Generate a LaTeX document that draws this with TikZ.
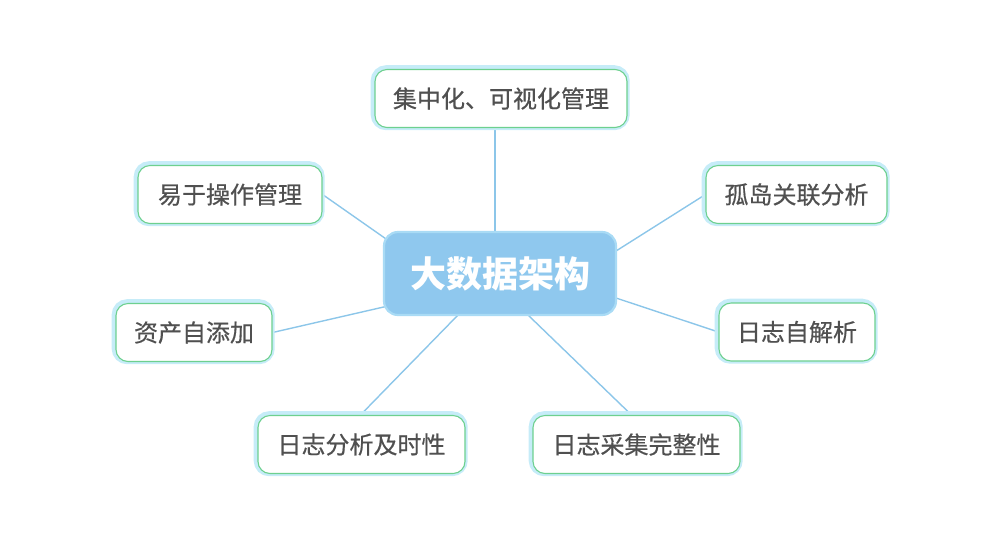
\documentclass[tikz,border=0pt]{standalone}
\usepackage{fontspec}
\setmainfont{Noto Sans CJK SC}
\newfontfamily\cjk{Noto Sans CJK SC}
\newfontfamily\cjkm[FakeBold=0.5]{Noto Sans CJK SC}
\usetikzlibrary{backgrounds}
\definecolor{leafgreen}{HTML}{6DD08F}
\definecolor{leafcyan}{HTML}{C6ECF8}
\definecolor{txtgray}{HTML}{505050}
\definecolor{hubfill}{HTML}{8FC8EE}
\definecolor{hubborder}{HTML}{A9DBF5}
\definecolor{linkblue}{HTML}{8CC6E9}
\tikzset{
  leaf/.style={draw=leafgreen, line width=1.1pt, fill=white, rounded corners=12pt,
    inner sep=0pt, minimum height=58pt, text=txtgray,
    font=\cjkm\fontsize{24}{28}\selectfont,
    preaction={draw=leafcyan, line width=7pt, rounded corners=12pt,
      transform canvas={xshift=-0.8pt,yshift=0.8pt}}},
  hub/.style={draw=hubborder, line width=2.2pt, fill=hubfill, rounded corners=14pt,
    inner sep=0pt, minimum width=232pt, minimum height=83pt, text=white,
    font=\cjk\bfseries\fontsize{36}{40}\selectfont},
  link/.style={draw=linkblue, line width=1.4pt}
}
\begin{document}
\begin{tikzpicture}[x=1pt,y=-1pt]
\useasboundingbox (0,0) rectangle (1000,558);
\node[hub] (c) at (500,273.5) {大数据架构};
\node[leaf, minimum width=252pt] (t1) at (501,98.5) {集中化、可视化管理};
\node[leaf, minimum width=184pt] (t2) at (230,194.5) {易于操作管理};
\node[leaf, minimum width=181pt] (t3) at (796.5,194.5) {孤岛关联分析};
\node[leaf, minimum width=156pt] (t4) at (797,332) {日志自解析};
\node[leaf, minimum width=156pt] (t5) at (194,332.5) {资产自添加};
\node[leaf, minimum width=207pt] (t6) at (361.5,444.5) {日志分析及时性};
\node[leaf, minimum width=207pt] (t7) at (636.5,444.5) {日志采集完整性};
\coordinate (p1) at (495,232);
\coordinate (p2) at (389,241);
\coordinate (p3) at (616,251);
\coordinate (p4) at (616,298);
\coordinate (p5) at (388,306);
\coordinate (p6) at (458,315);
\coordinate (p7) at (528,315);
\begin{scope}[on background layer]
\draw[link] (p1) -- (p1 |- t1.south);
\draw[link] (t2.east) -- (p2);
\draw[link] (t3.west) -- (p3);
\draw[link] (t4.west) -- (p4);
\draw[link] (t5.east) -- (p5);
\draw[link] ([xshift=-1pt]t6.north) -- (p6);
\draw[link] ([xshift=-5pt]t7.north) -- (p7);
\end{scope}
\end{tikzpicture}
\end{document}
